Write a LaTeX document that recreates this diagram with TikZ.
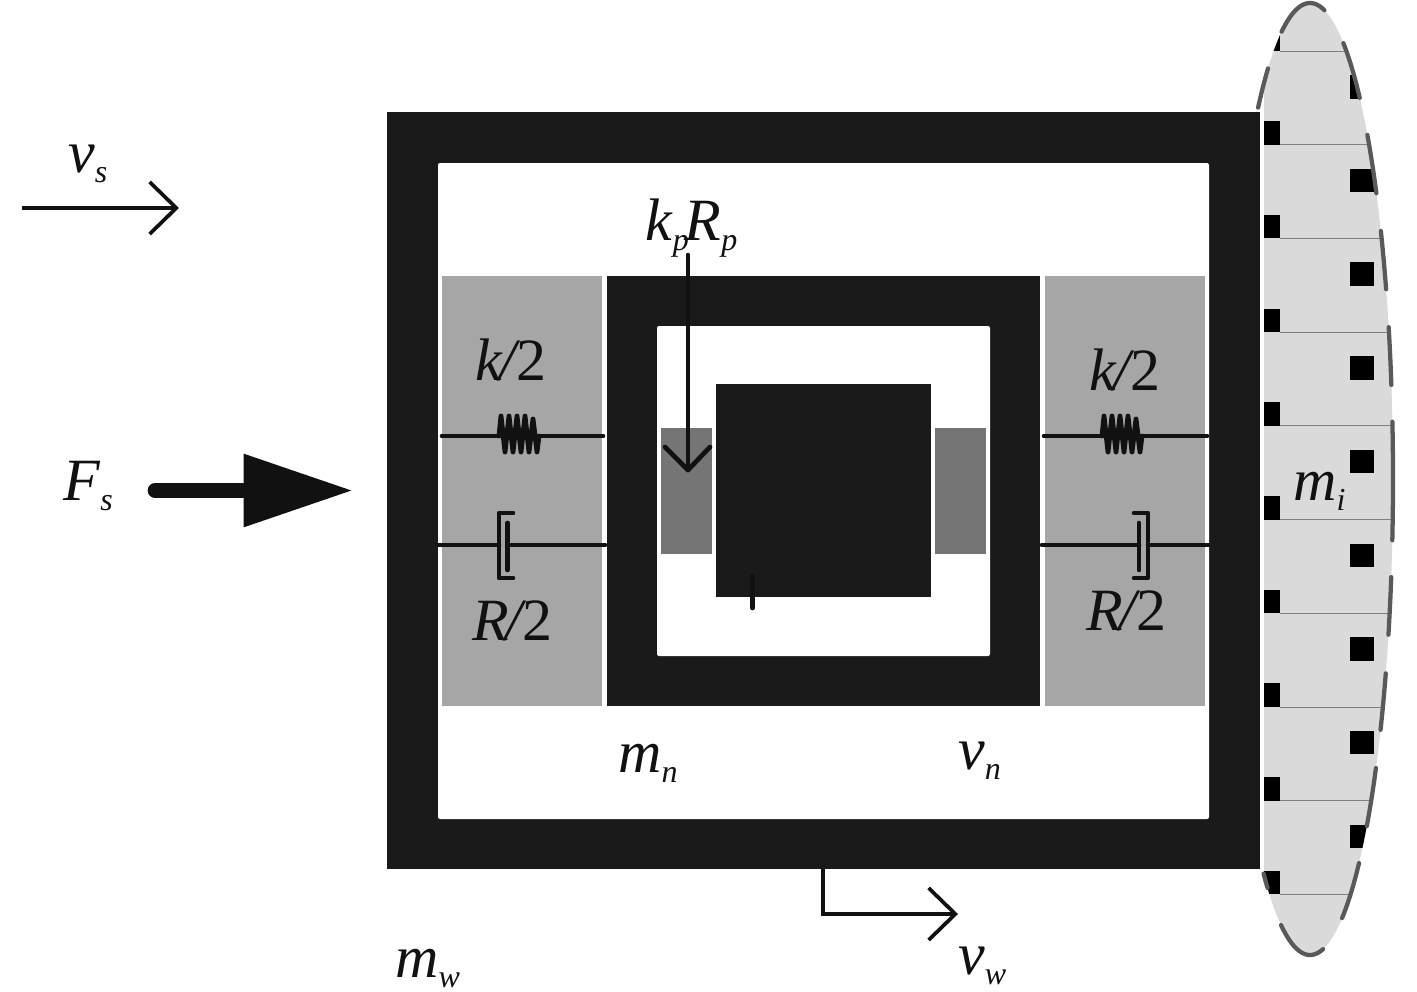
\documentclass[tikz,border=0pt]{standalone}
\usepackage{fontspec}
\setmainfont{Liberation Serif}
\usetikzlibrary{arrows.meta}
\definecolor{FrameInk}{HTML}{1A1A1A}
\definecolor{LineInk}{HTML}{111111}
\definecolor{BlockGray}{HTML}{A6A6A6}
\definecolor{PadGray}{HTML}{757575}
\definecolor{SkinGray}{HTML}{DADADA}
\definecolor{DashGray}{HTML}{595959}
\newcommand{\symb}[2]{\textit{#1}\raisebox{-.17em}{\fontsize{24}{24}\selectfont\textit{#2}}}
\newcommand{\half}[1]{\textit{#1}\kern-2.5pt\textit{/}\kern-3.5pt 2}
\tikzset{
  massframe/.style={fill=FrameInk},
  blockfill/.style={fill=BlockGray},
  padfill/.style={fill=PadGray},
  gapfill/.style={fill=white,rounded corners=1.5pt},
  wireline/.style={draw=LineInk,line width=3.5pt,line cap=round,line join=round},
  thinarrow/.style={draw=LineInk,line width=2.4pt,-{Straight Barb[length=20pt,width=39pt,line width=2.8pt]}},
  symbol/.style={anchor=base west,inner sep=0pt,text=LineInk,font=\fontsize{45}{45}\selectfont}
}
\begin{document}
\begin{tikzpicture}[x=0.75pt,y=-0.75pt]
      \useasboundingbox[fill=white] (0,0) rectangle (1417,992);
      % added mass
      \begin{scope}
        \clip (1264,0) rectangle (1417,992);
        \fill[SkinGray] (1310,479) ellipse [x radius=83,y radius=476];
        \clip (1310,479) ellipse [x radius=83,y radius=476];
        \foreach \i in {0,...,9} {
          \fill[black] (1264,{27.5+93.7*\i}) rectangle (1280,{51+93.7*\i});
          \draw[gray,line width=0.6pt] (1280,{51+93.7*\i}) -- (1400,{51+93.7*\i});
        }
        \foreach \i in {0,...,8}
          \fill[black] (1350,{75+93.7*\i}) rectangle (1374,{98.5+93.7*\i});
      \end{scope}
      \foreach \ta/\tb in {-110/-80,-66.3/-53.2,-46.3/-36.9,-31.4/-23.5,-18.6/-11.4,-6.9/7.4,11.9/19.1,24.1/31.8,37.4/46.8,53.8/67.3,81/110.4,120.8/124,-128.7/-120.4}
        \draw[DashGray,line width=3.2pt,line cap=round]
          plot[domain=\ta:\tb,samples=30,variable=\t] ({1310+83*cos(\t)},{479+476*sin(\t)});
      % outer and inner frames
      \fill[massframe] (387,112) rectangle (1260,869);
      \fill[gapfill] (438,163) rectangle (1209,819);
      \fill[blockfill] (442,276) rectangle (602,706);
      \fill[blockfill] (1045,276) rectangle (1205,706);
      \fill[massframe] (607,276) rectangle (1040,706);
      \fill[gapfill] (657,326) rectangle (990,656);
      \fill[massframe] (716,384) rectangle (931,597);
      \fill[padfill] (661,428) rectangle (712,554);
      \fill[padfill] (935,428) rectangle (986,554);
      % springs
      \draw[wireline] (442,436) -- (498,436) (540,436) -- (603,436);
      \draw[wireline] (1044,436) -- (1103,436) (1143,436) -- (1207,436);
      \foreach \sx in {0,603}
        \draw[wireline,line width=3.6pt,shift={(\sx,0)}]
          (499,436) -- (501,416) -- (505,452) -- (509,416) -- (513,452) -- (517,416)
          -- (521,452) -- (525,416) -- (529,452) -- (533,419) -- (537,452) -- (539,436);
      % dampers
      \draw[wireline] (439,545) -- (499,545) (509,545) -- (605,545);
      \draw[wireline] (513,513) -- (499,513) -- (499,578) -- (513,578);
      \draw[wireline] (507.5,523) -- (507.5,570);
      \draw[wireline] (1042,545) -- (1139,545) (1148,545) -- (1208,545);
      \draw[wireline] (1134,513) -- (1148,513) -- (1148,578) -- (1134,578);
      \draw[wireline] (1139,523) -- (1139,570);
      % labels
      \node[symbol] (vs) at (68,172) {\symb{v}{s}};
      \node[symbol] (Fs) at (63,500) {\symb{F}{s}};
      \node[symbol] (kR) at (645,240) {\symb{k}{p}\kern-3pt\symb{R}{p}};
      \node[symbol] (kl) at (475,380) {\half{k}};
      \node[symbol] (kr) at (1089,390) {\half{k}};
      \node[symbol] (Rl) at (472,640) {\half{R}};
      \node[symbol] (Rr) at (1086,630) {\half{R}};
      \node[symbol] (mn) at (618,772) {\symb{m}{n}};
      \node[symbol] (vn) at (958,769) {\symb{v}{n}};
      \node[symbol] (mw) at (395,977) {\symb{m}{w}};
      \node[symbol] (vw) at (958,974) {\symb{v}{w}};
      \node[symbol] (mi) at (1293,500) {\symb{m}{i}};
      % arrows
      \coordinate (vsA) at (22,208);
      \coordinate (vsB) at (179,208);
      \draw[thinarrow] (vsA) -- (vsB);
      \coordinate (FsA) at (155,490.5);
      \coordinate (FsB) at (353,490.5);
      \draw[draw=LineInk,fill=LineInk,line width=11pt,line cap=round,-{Triangle[length=82pt,width=52pt]}] (FsA) -- (FsB);
      \coordinate (kRA) at (688,255);
      \coordinate (kRB) at (688,470);
      \draw[wireline] (kRA) -- (kRB);
      \draw[wireline] (665,447) -- (kRB) -- (710,447);
      \coordinate (tickA) at (752.5,576);
      \coordinate (tickB) at (752.5,608);
      \draw[wireline] (tickA) -- (tickB);
      \coordinate (vwA) at (823,869);
      \coordinate (vwB) at (823,914);
      \coordinate (vwC) at (958,914);
      \draw[thinarrow] (vwA) -- (vwB) -- (vwC);
\end{tikzpicture}
\end{document}
